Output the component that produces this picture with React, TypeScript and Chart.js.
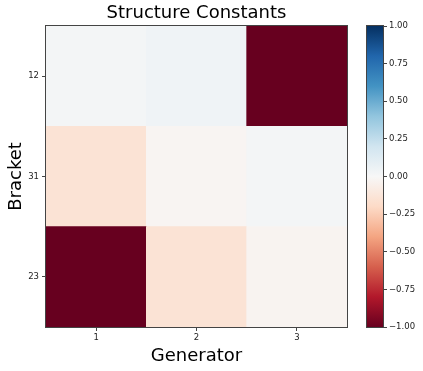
import React, { useEffect, useRef } from "react";
import { Chart, registerables } from "chart.js";

Chart.register(...registerables);

const generators = ["1", "2", "3"];
const brackets = ["12", "31", "23"]; // top to bottom
const row12 = [0.02, 0.04, -1.0];
const row31 = [-0.14, -0.02, 0.02];
const row23 = [-1.0, -0.14, -0.03];
const values = [row12, row31, row23];
const colorbarTicks = [-1, -0.75, -0.5, -0.25, 0, 0.25, 0.5, 0.75, 1];

const RdBu = [
  [103, 0, 31],
  [178, 24, 43],
  [214, 96, 77],
  [244, 165, 130],
  [253, 219, 199],
  [247, 247, 247],
  [209, 229, 240],
  [146, 197, 222],
  [67, 147, 195],
  [33, 102, 172],
  [5, 48, 97],
];

function colorFor(v: number): string {
  const t = Math.max(0, Math.min(1, (v + 1) / 2));
  const p = t * (RdBu.length - 1);
  const i = Math.min(RdBu.length - 2, Math.floor(p));
  const f = p - i;
  const a = RdBu[i];
  const b = RdBu[i + 1];
  const c = a.map((x, k) => Math.round(x + (b[k] - x) * f));
  return `rgb(${c[0]},${c[1]},${c[2]})`;
}

const FONT = "'DejaVu Sans', sans-serif";
const TICK_COLOR = "#222";
const SPINE = "#444";

const frame = {
  id: "frame",
  afterDatasetsDraw(chart: any) {
    const { ctx, chartArea } = chart;
    ctx.save();
    ctx.strokeStyle = SPINE;
    ctx.lineWidth = 1;
    ctx.strokeRect(
      Math.round(chartArea.left) - 0.5,
      Math.round(chartArea.top) - 0.5,
      Math.round(chartArea.right - chartArea.left) + 1,
      Math.round(chartArea.bottom - chartArea.top) + 1
    );
    ctx.restore();
  },
};

export default function App() {
  const mainRef = useRef<HTMLCanvasElement>(null);
  const barRef = useRef<HTMLCanvasElement>(null);

  useEffect(() => {
    const n = brackets.length;
    const datasets = [];
    for (let r = n - 1; r >= 0; r--) {
      datasets.push({
        label: brackets[r],
        data: values[r].map(() => 1),
        backgroundColor: values[r].map(colorFor),
        borderWidth: 0,
        barPercentage: 1,
        categoryPercentage: 1,
      });
    }
    const main = new Chart(mainRef.current!, {
      type: "bar",
      data: { labels: generators, datasets },
      options: {
        animation: false,
        responsive: false,
        layout: { padding: { left: 0, right: 76, top: 0, bottom: 0 } },
        plugins: {
          legend: { display: false },
          tooltip: { enabled: false },
          title: {
            display: true,
            fullSize: false,
            text: "Structure Constants",
            color: "#000",
            font: { family: FONT, size: 18, weight: "normal" },
            padding: { top: 3, bottom: 1.4 },
          },
        },
        scales: {
          x: {
            stacked: true,
            afterFit: (s: any) => {
              s.height = 44;
            },
            grid: {
              offset: false,
              drawOnChartArea: false,
              drawTicks: true,
              tickLength: 4,
              color: SPINE,
            },
            border: { display: true, color: SPINE },
            ticks: {
              color: TICK_COLOR,
              font: { family: FONT, size: 8.5 },
              padding: 2,
              maxRotation: 0,
            },
            title: {
              display: true,
              text: "Generator",
              color: "#000",
              font: { family: FONT, size: 18 },
              padding: { top: 4, bottom: 4 },
            },
          },
          y: {
            stacked: true,
            min: 0,
            max: n,
            afterFit: (s: any) => {
              s.width = 46;
            },
            afterBuildTicks: (s: any) => {
              s.ticks = brackets.map((_, i) => ({ value: i + 0.5 }));
            },
            grid: {
              drawOnChartArea: false,
              drawTicks: true,
              tickLength: 4,
              color: SPINE,
            },
            border: { display: true, color: SPINE },
            ticks: {
              color: TICK_COLOR,
              font: { family: FONT, size: 8.5 },
              padding: 3,
              callback: (v: any) => brackets[n - 1 - Math.floor(Number(v))],
            },
            title: {
              display: true,
              text: "Bracket",
              color: "#000",
              font: { family: FONT, size: 18 },
              padding: { top: 6, bottom: 4 },
            },
          },
        },
      },
      plugins: [frame],
    });

    const bar = new Chart(barRef.current!, {
      type: "bar",
      data: {
        labels: [""],
        datasets: [
          {
            data: [[-1, 1]] as any,
            backgroundColor: (ctx: any) => {
              const area = ctx.chart.chartArea;
              if (!area) return colorFor(0);
              const g = ctx.chart.ctx.createLinearGradient(0, area.bottom, 0, area.top);
              RdBu.forEach((c, i) => {
                g.addColorStop(i / (RdBu.length - 1), `rgb(${c[0]},${c[1]},${c[2]})`);
              });
              return g;
            },
            borderWidth: 0,
            barPercentage: 1,
            categoryPercentage: 1,
          },
        ],
      },
      options: {
        animation: false,
        responsive: false,
        layout: { padding: { left: 17, right: 0, top: 26, bottom: 44 } },
        plugins: { legend: { display: false }, tooltip: { enabled: false } },
        scales: {
          x: { display: false },
          y: {
            position: "right",
            min: -1,
            max: 1,
            afterFit: (s: any) => {
              s.width = 40;
            },
            afterBuildTicks: (s: any) => {
              s.ticks = colorbarTicks.map((v) => ({ value: v }));
            },
            grid: {
              drawOnChartArea: false,
              drawTicks: true,
              tickLength: 4,
              color: SPINE,
            },
            border: { display: true, color: SPINE },
            ticks: {
              color: TICK_COLOR,
              font: { family: FONT, size: 8.5 },
              padding: 2,
              callback: (v: any) => {
                const s = Math.abs(Number(v)).toFixed(2);
                return Number(v) < 0 ? "\u2212" + s : s;
              },
            },
          },
        },
      },
      plugins: [frame],
    });

    return () => {
      main.destroy();
      bar.destroy();
    };
  }, []);

  return (
    <div style={{ position: "fixed", left: 0, top: 0, width: 423, height: 371, background: "#fff" }}>
      <canvas ref={mainRef} width={423} height={371} style={{ position: "absolute", left: 0, top: 0, width: 423, height: 371 }} />
      <canvas ref={barRef} width={73} height={371} style={{ position: "absolute", left: 350, top: 0, width: 73, height: 371 }} />
    </div>
  );
}
